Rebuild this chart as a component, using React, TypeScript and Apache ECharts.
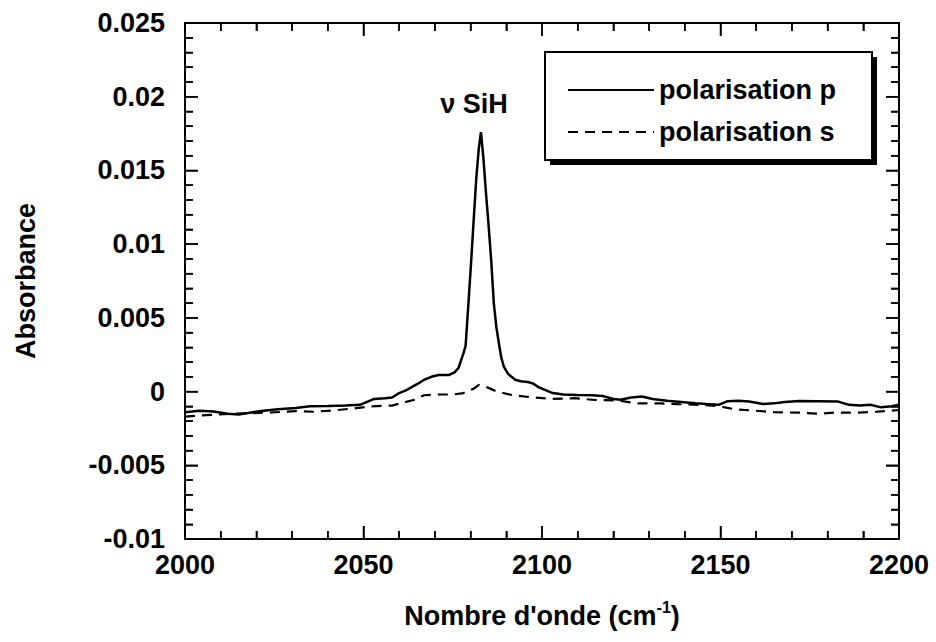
import React, { useEffect, useRef } from "react";
import * as echarts from "echarts";

const seriesNames = ["polarisation p", "polarisation s"];
const peakLabel = "ν SiH";
const xName = "Nombre d'onde (cm";
const xNameSup = "-1";
const yName = "Absorbance";

const X_MIN = 2000;
const X_MAX = 2200;
const Y_MIN = -0.01;
const Y_MAX = 0.025;

const xTickValues = [
  2000, 2010, 2020, 2030, 2040, 2050, 2060, 2070, 2080, 2090, 2100,
  2110, 2120, 2130, 2140, 2150, 2160, 2170, 2180, 2190, 2200,
];
const xMajorTicks = [2000, 2050, 2100, 2150, 2200];
const yTickValues = [
  -0.01, -0.009, -0.008, -0.007, -0.006, -0.005, -0.004, -0.003, -0.002, -0.001,
  0, 0.001, 0.002, 0.003, 0.004, 0.005, 0.006, 0.007, 0.008, 0.009,
  0.01, 0.011, 0.012, 0.013, 0.014, 0.015, 0.016, 0.017, 0.018, 0.019,
  0.02, 0.021, 0.022, 0.023, 0.024, 0.025,
];
const yMajorTicks = [-0.01, -0.005, 0, 0.005, 0.01, 0.015, 0.02, 0.025];

const polP: [number, number][] = [
  [2000, -0.0014], [2004, -0.0013], [2008, -0.00135], [2012, -0.0015], [2015, -0.00155],
  [2019, -0.0014], [2022, -0.0013], [2026, -0.0012], [2031, -0.00112], [2035, -0.001],
  [2040, -0.00098], [2045, -0.00095], [2049, -0.0009], [2051, -0.0007], [2053, -0.0005],
  [2056, -0.00045], [2058, -0.0004], [2060, -0.0001], [2062, 0.0001], [2065, 0.0005],
  [2067, 0.0008], [2069, 0.001], [2071, 0.00112], [2074, 0.00113], [2075.5, 0.0013],
  [2076.6, 0.0016], [2077.3, 0.0021], [2078, 0.0026], [2078.6, 0.0031], [2079.4, 0.006],
  [2080.2, 0.009], [2080.8, 0.0114], [2081.6, 0.0145], [2082.3, 0.0165], [2082.9, 0.0176],
  [2083.6, 0.0158], [2084.3, 0.0135], [2085, 0.0114], [2085.8, 0.0088], [2086.5, 0.006],
  [2087.2, 0.0044], [2087.9, 0.0033], [2088.6, 0.0023], [2089.3, 0.0017], [2090.5, 0.0012],
  [2092.5, 0.0008], [2094, 0.0007], [2096, 0.00065], [2097.5, 0.00055], [2099, 0.0003],
  [2101, 0.0001], [2103, -0.0001], [2106, -0.0002], [2110, -0.00023], [2114, -0.00025],
  [2117, -0.0003], [2120, -0.0005], [2122, -0.00055], [2125, -0.0004], [2128, -0.00033],
  [2131, -0.0005], [2135, -0.00063], [2139, -0.0007], [2143, -0.0008], [2146, -0.00085],
  [2149.5, -0.0009], [2152, -0.00065], [2155, -0.00062], [2158, -0.00068], [2162, -0.00085],
  [2165, -0.0008], [2168, -0.0007], [2172, -0.00064], [2177, -0.00065], [2183, -0.00068],
  [2186, -0.0009], [2189, -0.00095], [2192, -0.0009], [2195, -0.00107], [2198, -0.001],
  [2200, -0.0009],
];

const polS: [number, number][] = [
  [2000, -0.0017], [2006, -0.0016], [2014, -0.0015], [2024, -0.00142], [2031, -0.00133],
  [2036, -0.00137], [2042, -0.00127], [2047, -0.00115], [2052, -0.001], [2058, -0.00095],
  [2064, -0.00057], [2067, -0.00025], [2071, -0.0002], [2075, -0.0002], [2078, -0.0001],
  [2080.9, 0.0002], [2082.3, 0.00045], [2083.5, 0.0004], [2085.5, 0.0002], [2087.4, 0],
  [2091.6, -0.00023], [2097, -0.00039], [2103, -0.0005], [2109, -0.00045], [2115, -0.00057],
  [2121, -0.0006], [2127, -0.0008], [2133, -0.0008], [2138, -0.00085], [2144, -0.0009],
  [2149, -0.00097], [2154, -0.0012], [2160, -0.0013], [2165, -0.0014], [2172, -0.00143],
  [2177, -0.0015], [2182, -0.00143], [2188, -0.00143], [2194, -0.00136], [2200, -0.00125],
];

const peakCoord: [number, number] = [2082.9, 0.0176];

const FONT = "'Liberation Sans', Arial, Helvetica, sans-serif";
const FS = 27;
const FW = "bold";
const MAJOR_LEN = 13;
const MINOR_LEN = 8;

const mkLine = () => ({ show: true, onZero: false, lineStyle: { color: "#000", width: 2 } });
const mkTick = () => ({ show: true, inside: true, length: MAJOR_LEN, lineStyle: { color: "#000", width: 1.5 } });
const mkMinor = () => ({ show: true, splitNumber: 5, length: MINOR_LEN, lineStyle: { color: "#000", width: 1.5 } });

function renderTicks(_params: any, api: any) {
  const children: any[] = [];
  const style = { stroke: "#000", lineWidth: 1.5 };
  xTickValues.forEach((x) => {
    const len = xMajorTicks.includes(x) ? MAJOR_LEN : MINOR_LEN;
    const b = api.coord([x, Y_MIN]);
    const t = api.coord([x, Y_MAX]);
    children.push({ type: "line", shape: { x1: b[0], y1: b[1], x2: b[0], y2: b[1] - len }, style });
    children.push({ type: "line", shape: { x1: t[0], y1: t[1], x2: t[0], y2: t[1] + len }, style });
  });
  yTickValues.forEach((y) => {
    const len = yMajorTicks.some((m) => Math.abs(m - y) < 1e-9) ? MAJOR_LEN : MINOR_LEN;
    const l = api.coord([X_MIN, y]);
    const r = api.coord([X_MAX, y]);
    children.push({ type: "line", shape: { x1: l[0], y1: l[1], x2: l[0] + len, y2: l[1] }, style });
    children.push({ type: "line", shape: { x1: r[0], y1: r[1], x2: r[0] - len, y2: r[1] }, style });
  });
  return { type: "group", children };
}

function makeOption() {
  const fmtY = (x: number) => String(parseFloat(x.toFixed(4)));
  const fmtX = (x: number) => String(x);
  return {
    animation: false,
    backgroundColor: "#fff",
    textStyle: { fontFamily: FONT },
    grid: { left: 185, right: 37, top: 23, bottom: 103, show: false },
    xAxis: [
      {
        type: "value", min: X_MIN, max: X_MAX, interval: 50, position: "bottom",
        axisLine: mkLine(), axisTick: mkTick(), minorTick: mkMinor(), splitLine: { show: false },
        axisLabel: { color: "#000", fontSize: FS, fontWeight: FW, fontFamily: FONT, margin: 12, formatter: fmtX },
        name: xName + "{sup|" + xNameSup + "})",
        nameLocation: "middle", nameGap: 60,
        nameTextStyle: {
          color: "#000", fontSize: FS, fontWeight: FW, fontFamily: FONT, lineHeight: 34,
          rich: { sup: { fontSize: 16, fontWeight: FW, fontFamily: FONT, color: "#000", verticalAlign: "top", lineHeight: 16 } },
        },
      },
      {
        type: "value", min: X_MIN, max: X_MAX, interval: 50, position: "top",
        axisLine: mkLine(), axisTick: mkTick(), minorTick: mkMinor(), splitLine: { show: false },
        axisLabel: { show: false },
      },
    ],
    yAxis: [
      {
        type: "value", min: Y_MIN, max: Y_MAX, interval: 0.005, position: "left",
        axisLine: mkLine(), axisTick: mkTick(), minorTick: mkMinor(), splitLine: { show: false },
        axisLabel: { color: "#000", fontSize: FS, fontWeight: FW, fontFamily: FONT, margin: 20, formatter: fmtY },
        name: yName, nameLocation: "middle", nameGap: 146, nameRotate: 90,
        nameTextStyle: { color: "#000", fontSize: FS, fontWeight: FW, fontFamily: FONT },
      },
      {
        type: "value", min: Y_MIN, max: Y_MAX, interval: 0.005, position: "right",
        axisLine: mkLine(), axisTick: mkTick(), minorTick: mkMinor(), splitLine: { show: false },
        axisLabel: { show: false },
      },
    ],
    legend: {
      orient: "vertical", left: 562, top: 70, z: 10,
      itemWidth: 86, itemHeight: 14, itemGap: 12,
      itemStyle: { color: "transparent", borderWidth: 0 },
      textStyle: { color: "#000", fontSize: FS, fontWeight: FW, fontFamily: FONT, lineHeight: 30 },
      data: seriesNames,
    },
    graphic: [
      { type: "rect", z: 5, shape: { x: 550, y: 57, width: 327, height: 108 }, style: { fill: "#000" } },
      { type: "rect", z: 6, shape: { x: 545, y: 52, width: 327, height: 108 }, style: { fill: "#fff", stroke: "#000", lineWidth: 2 } },
    ],
    series: [
      {
        name: seriesNames[0], type: "line", data: polP, showSymbol: false, symbol: "none",
        lineStyle: { color: "#000", width: 2.5, type: "solid" }, itemStyle: { color: "#000" },
        markPoint: {
          symbol: "circle", symbolSize: 0,
          label: { show: true, formatter: peakLabel, position: "inside", offset: [-7, -28], color: "#000", fontSize: FS, fontWeight: FW, fontFamily: FONT },
          data: [{ coord: peakCoord }],
        },
      },
      {
        name: seriesNames[1], type: "line", data: polS, showSymbol: false, symbol: "none",
        lineStyle: { color: "#000", width: 2.2, type: [10, 7] }, itemStyle: { color: "#000" },
      },
      {
        name: "axis ticks", type: "custom", data: [[X_MIN, Y_MIN]], renderItem: renderTicks,
        clip: false, silent: true, z: 3,
      },
    ],
  };
}

export default function App() {
  const ref = useRef<HTMLDivElement>(null);
  useEffect(() => {
    if (!ref.current) return;
    const c = echarts.init(ref.current, undefined, { renderer: "svg" });
    c.setOption(makeOption() as any);
    return () => c.dispose();
  }, []);
  return (
    <div style={{ position: "fixed", left: 0, top: 0, width: 936, height: 642 }}>
      <div ref={ref} style={{ width: 936, height: 642 }} />
    </div>
  );
}
